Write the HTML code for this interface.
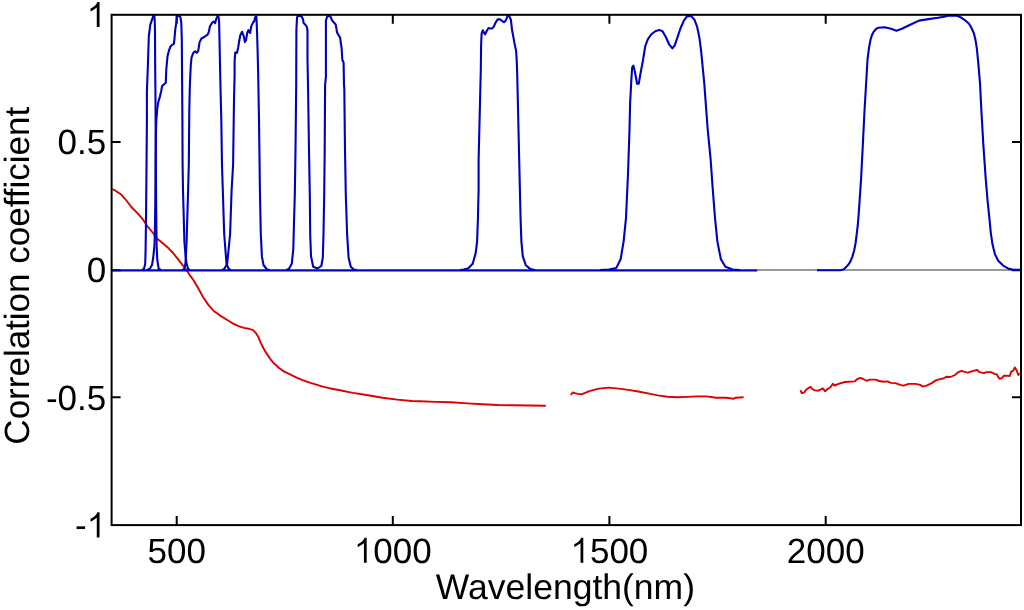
<!DOCTYPE html><html><head><meta charset="utf-8"><style>html,body{margin:0;padding:0;background:#fff;}svg{display:block;will-change:transform;}text{font-family:"Liberation Sans",sans-serif;fill:#000;text-rendering:geometricPrecision;}</style></head><body>
<svg width="1024" height="610" viewBox="0 0 1024 610">
<rect x="0" y="0" width="1024" height="610" fill="#fff"/>
<line x1="111.6" y1="269.95" x2="1021" y2="269.95" stroke="#989898" stroke-width="1.9"/>
<path d="M176.70 525.1V516.1M176.70 14.8V23.8M392.80 525.1V516.1M392.80 14.8V23.8M609.40 525.1V516.1M609.40 14.8V23.8M825.70 525.1V516.1M825.70 14.8V23.8M111.6 142.10H120.6M1021 142.10H1012M111.6 270.30H120.6M1021 270.30H1012M111.6 397.30H120.6M1021 397.30H1012" stroke="#000" stroke-width="2" fill="none"/>
<g fill="none" stroke="#dd0000" stroke-width="1.9" stroke-linejoin="round" stroke-linecap="butt">
<polyline points="112.5,189 116.6,191.5 121.5,194.8 126.4,200.5 131.3,207 137.9,213.6 142.8,219.3 147.7,226.7 152.6,232.5 157.5,239 162.5,243.1 167.4,247.2 173.1,253 178.9,260.3 184.6,267.7 187.5,271.6 190.3,275.9 193.2,279.8 198.1,288 203,297 208,304.4 213.7,311 219.4,315.1 226,319.2 232.5,323.3 239.1,326.3 243.9,327.9 248.8,328.8 252.8,329.8 255.7,332.8 258.2,336.7 260.6,342.6 263.6,348.5 266.5,353.4 270.5,359.3 274.4,363.8 279.3,368.2 284.2,371.6 290,374.4 296.6,377.7 303.1,380.3 309.7,382.6 316.2,384.6 322.8,386.6 329.3,388.2 335.9,389.5 342.5,390.8 349,392.1 353.2,392.9 367.9,395.2 382.5,397.8 397.2,399.6 411.8,401 420,401.3 435.6,401.9 451.3,402.3 466.9,403.4 482.5,404.2 498.1,405 513.8,405.3 529.4,405.5 545.8,405.8"/>
<polyline points="570.7,395 572.7,392.5 575.6,393.4 581.5,394.4 589.3,391.1 599.1,388.6 608.8,387.6 618.6,388.6 628.4,389.9 638.1,391.5 647.9,393.4 657.7,395.4 667.4,396.8 677.2,397.3 687,396.9 696.7,396.4 706.5,396.4 716.3,397.7 726,397.7 733.8,398.7 735.8,397.7 743.6,397.3"/>
<polyline points="800.5,390.2 801.7,393.1 804.1,392.5 806.4,389.6 808.8,387.8 810.5,386.9 812.3,389 814.6,390.4 818.1,390.7 820.5,389.6 822.8,388.4 825.2,391.3 827.5,389 830.4,387.2 832.8,383.7 834.5,385.5 839.2,383.7 845.1,382 848.6,381.7 854.5,381.4 857.4,379 860.3,377.9 863.2,379 866.8,380.8 869.7,379.6 875.5,379.6 879.1,381 883.8,381.7 887.3,381.4 890.8,382.9 895.5,383.1 900.2,384.9 903.7,385.6 908.5,383.9 915.5,383.9 920.1,384.9 923,386.6 927.1,385.4 931.7,383.1 935.8,380.4 939.9,379.1 943.3,378.5 946.3,376.7 950.3,377 955,375 957.9,372.4 961.4,370.9 965.4,372.1 967.8,372.7 972.4,371.2 977.1,370 979.4,372.1 984,373.2 986.3,372.1 991,372.1 994.5,373.8 996.8,374.4 999.1,378.5 1001.5,378.5 1003.8,375.8 1007.3,375.6 1009.6,376.1 1011.3,371.5 1013.1,370.9 1014.8,367.4 1016.6,370.3 1018.3,375 1019.5,373.2"/>
</g>
<g fill="none" stroke="#0000c0" stroke-width="2.1" stroke-linejoin="round" stroke-linecap="butt">
<line x1="111.6" y1="270.45" x2="757.2" y2="270.45"/>
<polyline points="142,270 143.9,269 145.2,264 145.6,250 146,220 146.4,180 146.9,120 146.9,91.5 147.9,65 148.4,49.3 148.8,36.5 150.3,24.7 151.3,21.8 152.8,17.4 153.3,15.9 154.3,15.9 154.7,19.8 155,31.6 155.2,69 155.5,100 155.8,160 156.2,210 156.6,245 157.3,260 158.7,268.8 161,270"/>
<polyline points="147,270 149.8,268.8 152,265 153.2,258 154.5,245 155,225 155.3,200 155.6,160 156,130 156.4,120 157.2,109.2 158.2,102.4 159.7,97.4 161.1,91.5 162.1,86.1 164.1,84.2 165.8,82.7 166,76.8 166.3,69.5 167.5,56.2 169,50.3 170.5,46.4 172,44.9 173.9,43.9 174.4,39.5 174.9,33.6 175.4,28.7 176.4,21.8 176.9,16.4 178.8,15.9 180.3,16.9 181.3,22.8 181.8,40 182.1,80 182.4,120 182.6,165 183,190 184.4,241.6 185.5,255 186.5,263 188.1,269 190,270"/>
<polyline points="182,270 184.4,269 185.5,263 186.6,241.6 188.1,190 188.8,165 189.3,110 189.8,88 190.3,75 190.8,65 191.6,57.2 193.6,52.3 195.1,51.3 196.6,52.8 198.2,51 199.6,42.1 201.3,38.7 204.2,37 207.6,34.7 208.8,31.8 209.9,26.6 212.2,22.6 213.9,21.5 215.1,23.2 216.2,19.2 217.4,16.3 218.5,16.3 219.1,21.5 219.5,39.9 220.3,78.9 221.3,120 222,165 222.8,190 224.2,234 226.5,263.7 228.7,269 231,270"/>
<polyline points="222,270 224.2,269 227.2,263.7 230.1,234 231.6,190 233.1,165 234,100 234.6,75 234.6,61.7 235.2,52.5 236.9,53 238.1,47.9 239.2,41 240.3,35.3 242.1,31.8 243.8,36.4 244.9,42.1 246.1,39.9 247.2,33 248.4,30.1 250.1,33 251.3,26.1 253,22.6 254.1,21.5 255.3,16.9 256.4,16.3 257,30.7 257.6,50.2 258.2,75 259,120 259.6,165 259.9,190 260.8,234 261.9,256.4 263.5,265 267,269.5 270,270"/>
<polyline points="286,270 288.8,269 291.8,263.7 293.3,249 294,222.4 294.8,195 295.5,150 296.2,85 296.4,29.7 297,17.9 297.7,15.9 299.7,15.9 301.6,16.6 303,19.2 303.6,23.1 305.6,25.1 306.9,27 307.5,31 307.5,60 308,85 309,150 309.8,195 310.2,234 311,256 313.2,266.7 317.6,268.5 321.3,266 322.8,257.8 323.5,234 324.2,195 324.7,150 325.1,85 325.9,76.9 325.9,20.5 327.2,16.6 329.2,15.9 330.5,16.6 331.8,19.8 333.8,22.5 335.7,24.4 336.4,28.4 337,32.3 338.4,34.9 340.1,37.5 341,44.1 341.6,48 342.3,59.8 343.6,62.5 344,85 344.3,88.7 345,150 345.8,195 347.1,234 348.6,257.8 350.8,266.7 353.7,269.5 357,270"/>
<polyline points="460,270 463.8,269.6 468.3,268.2 472.7,263.7 475.6,253.4 477.1,241.6 477.9,219.5 478.6,190 478.6,160 480.8,70 481.1,45.2 481.6,33.7 482.8,30.3 483.9,32.6 485.1,34.3 486.8,30.8 488.5,28 490.3,28.5 492,28.5 493.7,26.8 495.4,22.8 497.7,19.4 500,19.4 502.3,21.1 504,22.2 505.8,20.5 506.9,17.6 508.1,15.3 509.2,15.9 510.9,19.9 512.1,30.3 513.2,36 514.4,42.9 516.1,50.9 516.7,60.1 517.2,73.9 519.2,160 519.9,190 520.6,219.5 521.4,241.6 522.8,256.4 525.8,265.2 530.2,268.9 535,270"/>
<polyline points="600,270 608.8,269.6 616.2,268.1 620.6,259.3 623.6,241.6 626,218 628,173.7 629.5,129.5 630.1,103.4 631.4,78.8 632.2,67.3 633.4,65.7 635,72.2 637.1,83.7 638.8,83.7 640.4,73.9 642.9,60.7 645.3,46 647.8,39.4 651.1,34.5 655.2,31.2 659.3,29.9 662.5,31.2 665.8,37 669.1,44.3 672.4,48.4 674.8,45.2 677.3,37.8 680.6,28 683.9,20.6 687.1,16.1 691.2,16.1 694.5,19.8 697,26.3 699.4,37.8 701.1,50.9 702.7,67.3 704.3,83.7 705.5,100 707.7,129.5 710.6,159 712.7,188.5 715,218 717.4,241.6 720.9,259.3 725.4,266.7 732.7,269.6 740,270"/>
<polyline points="817,270.3 840,270.2 843.5,269.5 846.1,267 848.5,264.5 850.6,261.1 852.4,256.6 854.2,250.3 855.6,243 856.5,235.8 857.8,225 858.9,211.1 861.1,178.4 862.8,145.6 864.4,112.8 866.1,83.7 867.5,59.7 869.1,47.2 870.6,39.4 872,35 873.8,31.6 876,29 878.4,27.7 884.7,27.3 891,28.8 896.4,30.8 901.9,28.8 909.7,25 919,20.6 928.4,19.1 937.8,17.8 944.1,16.7 948.8,15.6 956.6,15.6 960.5,17.2 964.4,19.8 969.1,23.8 971.5,28 973.8,33.1 975.5,40 976.9,48.8 978.4,64.4 980,83.1 981.5,112.8 983.4,145.6 985.7,178.4 987.5,200 989.2,216.4 990.8,232.8 992.5,244.3 994.9,254.1 998.2,260.7 1003.1,265.6 1008.9,268.9 1013.8,269.7 1021,269.9"/>
</g>
<rect x="111.6" y="14.8" width="909.4" height="510.3" fill="none" stroke="#000" stroke-width="2"/>
<path transform="translate(86.74,27.10) scale(35)" d="M0.366 0 L0.287 0 L0.287 -0.56 C0.263 -0.54 0.235 -0.519 0.200 -0.498 C0.166 -0.477 0.135 -0.459 0.1089 -0.447 L0.1089 -0.530 C0.156 -0.552 0.197 -0.579 0.232 -0.610 C0.267 -0.641 0.292 -0.675 0.307 -0.7158 L0.366 -0.7158 Z" fill="#000"/>
<text x="57.55" y="154.40" font-size="35">0</text><text x="77.01" y="154.40" font-size="35">.</text><text x="86.74" y="154.40" font-size="35">5</text>
<text x="86.74" y="282.00" font-size="35">0</text>
<text x="45.90" y="409.60" font-size="35">-</text><text x="57.55" y="409.60" font-size="35">0</text><text x="77.01" y="409.60" font-size="35">.</text><text x="86.74" y="409.60" font-size="35">5</text>
<text x="75.09" y="537.40" font-size="35">-</text><path transform="translate(86.74,537.40) scale(35)" d="M0.366 0 L0.287 0 L0.287 -0.56 C0.263 -0.54 0.235 -0.519 0.200 -0.498 C0.166 -0.477 0.135 -0.459 0.1089 -0.447 L0.1089 -0.530 C0.156 -0.552 0.197 -0.579 0.232 -0.610 C0.267 -0.641 0.292 -0.675 0.307 -0.7158 L0.366 -0.7158 Z" fill="#000"/>
<text x="147.51" y="562.80" font-size="35">5</text><text x="166.97" y="562.80" font-size="35">0</text><text x="186.43" y="562.80" font-size="35">0</text>
<path transform="translate(353.88,562.80) scale(35)" d="M0.366 0 L0.287 0 L0.287 -0.56 C0.263 -0.54 0.235 -0.519 0.200 -0.498 C0.166 -0.477 0.135 -0.459 0.1089 -0.447 L0.1089 -0.530 C0.156 -0.552 0.197 -0.579 0.232 -0.610 C0.267 -0.641 0.292 -0.675 0.307 -0.7158 L0.366 -0.7158 Z" fill="#000"/><text x="373.34" y="562.80" font-size="35">0</text><text x="392.80" y="562.80" font-size="35">0</text><text x="412.26" y="562.80" font-size="35">0</text>
<path transform="translate(570.48,562.80) scale(35)" d="M0.366 0 L0.287 0 L0.287 -0.56 C0.263 -0.54 0.235 -0.519 0.200 -0.498 C0.166 -0.477 0.135 -0.459 0.1089 -0.447 L0.1089 -0.530 C0.156 -0.552 0.197 -0.579 0.232 -0.610 C0.267 -0.641 0.292 -0.675 0.307 -0.7158 L0.366 -0.7158 Z" fill="#000"/><text x="589.94" y="562.80" font-size="35">5</text><text x="609.40" y="562.80" font-size="35">0</text><text x="628.86" y="562.80" font-size="35">0</text>
<text x="786.78" y="562.80" font-size="35">2</text><text x="806.24" y="562.80" font-size="35">0</text><text x="825.70" y="562.80" font-size="35">0</text><text x="845.16" y="562.80" font-size="35">0</text>
<text x="565.4" y="599.2" font-size="35.5" text-anchor="middle">Wavelength(nm)</text>
<text transform="translate(28.5,275.7) rotate(-90)" x="0" y="0" font-size="35" text-anchor="middle">Correlation coefficient</text>
</svg></body></html>
